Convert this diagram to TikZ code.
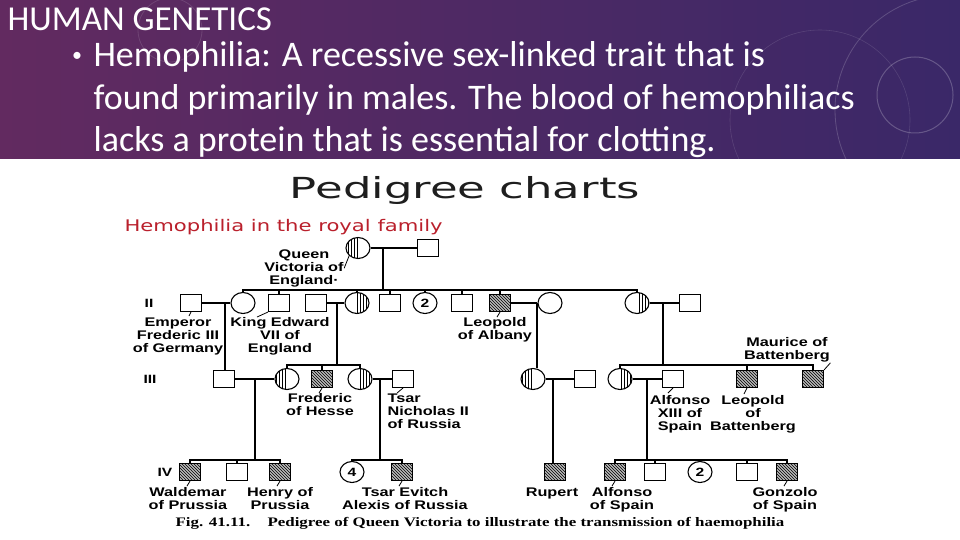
\documentclass[tikz,border=0pt]{standalone}
\usepackage{fontspec}
\setmainfont{Carlito}
\newfontfamily\hdrfont{Carlito}
\newfontfamily\charttitlefont[FakeStretch=1.55]{DejaVu Sans}
\newfontfamily\chartfont[FakeStretch=1.32]{DejaVu Sans}
\newfontfamily\lblfont[FakeStretch=1.3]{Liberation Sans}
\newfontfamily\capfont[FakeStretch=1.3]{Liberation Serif}
\usetikzlibrary{shapes.geometric,patterns,calc}
\definecolor{bandleft}{RGB}{98,42,96}
\definecolor{bandmid}{RGB}{74,22,78}
\definecolor{bandright}{RGB}{58,40,104}
\definecolor{chartred}{RGB}{186,32,44}
\definecolor{chartgray}{RGB}{30,30,30}

\begin{document}
\begin{tikzpicture}[
    x=1pt, y=-1pt, line width=1.1pt,
    male/.style={draw, rectangle, minimum width=21pt, minimum height=17pt, inner sep=0pt},
    female/.style={draw, ellipse, minimum width=24pt, minimum height=21pt, inner sep=0pt,
                   font=\lblfont\bfseries\fontsize{12}{12}\selectfont},
    affected/.style={male, path picture={
        \fill[gray!55] (path picture bounding box.south west) rectangle (path picture bounding box.north east);
        \fill[pattern=north west lines] (path picture bounding box.south west) rectangle (path picture bounding box.north east);}},
    carrierL/.style={female, path picture={
        \fill[pattern=vertical lines] (path picture bounding box.south west) rectangle (path picture bounding box.north);}},
    carrierR/.style={female, path picture={
        \fill[pattern=vertical lines] (path picture bounding box.south) rectangle (path picture bounding box.north east);}},
    lbl/.style={align=center, inner sep=0pt, anchor=north, font=\lblfont\bfseries\fontsize{12.5}{13}\selectfont},
    gen/.style={font=\lblfont\bfseries\fontsize{12}{12}\selectfont},
    tick/.style={line width=0.8pt}
]
\useasboundingbox (0,0) rectangle (960,540);

% Slide header band
\fill[white] (0,0) rectangle (960,540);
\shade[left color=bandleft, middle color=bandmid, right color=bandright] (0,0) rectangle (960,159);
\begin{scope}
  \clip (0,0) rectangle (960,159);
  \draw[white, opacity=0.18, line width=0.8pt] (950,110) circle (115);
  \draw[white, opacity=0.22, line width=1pt] (915,95) circle (38);
  \draw[white, opacity=0.12, line width=0.8pt] (170,30) circle (32);
  \draw[white, opacity=0.12, line width=0.6pt] (820,120) circle (90);
\end{scope}

\node[font=\hdrfont\fontsize{35}{35}\selectfont, text=white, anchor=base west, inner sep=0pt] (hdr) at (7,31) {HUMAN GENETICS};
\node[font=\fontsize{20}{20}\selectfont, text=white, anchor=base, inner sep=0pt] (bullet) at (77,62) {•};
\node[font=\hdrfont\fontsize{36}{36}\selectfont, text=white, anchor=base west, inner sep=0pt] (hl1) at (93,67) {Hemophilia: A recessive sex-linked trait that is};
\node[font=\hdrfont\fontsize{36}{36}\selectfont, text=white, anchor=base west, inner sep=0pt] (hl2) at (93,110) {found primarily in males. The blood of hemophiliacs};
\node[font=\hdrfont\fontsize{36}{36}\selectfont, text=white, anchor=base west, inner sep=0pt] (hl3) at (93,152) {lacks a protein that is essential for clotting.};

% Chart titles
\node[font=\charttitlefont\fontsize{29}{29}\selectfont, text=chartgray, anchor=base, inner sep=0pt] (charttitle) at (465,198) {Pedigree charts};
\node[font=\chartfont\fontsize{16}{16}\selectfont, text=chartred, anchor=base west, inner sep=0pt] (subtitle) at (124,231) {Hemophilia in the royal family};

% Generation numerals
\node[gen] (genII) at (149,303) {II};
\node[gen] (genIII) at (150,379) {III};
\node[gen] (genIV) at (165,472) {IV};

% Generation I
\node[carrierL] (vic) at (358,248) {};
\node[male] (albert) at (428,248) {};

% Generation II
\node[male] (fred3) at (191,303) {};
\node[female] (vicky) at (243,303) {};
\node[male] (edward) at (279,303) {};
\node[male] (louis) at (316,303) {};
\node[carrierR] (alice) at (357,303) {};
\node[male] (alfred) at (390,303) {};
\node[female] (two) at (425,303) {2};
\node[male] (arthur) at (462,303) {};
\node[affected] (leopold) at (500,303) {};
\node[female] (helene) at (550,303) {};
\node[carrierR] (beatrice) at (637,303) {};
\node[male] (henryB) at (690,303) {};

% Generation III
\node[male] (henry) at (224,379) {};
\node[carrierL] (irene) at (287,379) {};
\node[affected] (fredH) at (322,379) {};
\node[carrierR] (alix) at (360,379) {};
\node[male] (nicholas) at (403,379) {};
\node[carrierL] (aliceA) at (533,379) {};
\node[male] (alexA) at (585,379) {};
\node[carrierR] (ena) at (620,379) {};
\node[male] (alfonso13) at (673,379) {};
\node[affected] (leopoldB) at (747,379) {};
\node[affected] (maurice) at (813,379) {};

% Generation IV
\node[affected] (waldemar) at (190,472) {};
\node[male] (sigis) at (237,472) {};
\node[affected] (henryP) at (280,472) {};
\node[female] (four) at (352,472) {4};
\node[affected] (alexis) at (402,472) {};
\node[affected] (rupert) at (555,472) {};
\node[affected] (alfonsoS) at (615,472) {};
\node[male] (jaime) at (655,472) {};
\node[female] (twoB) at (700,472) {2};
\node[male] (juan) at (747,472) {};
\node[affected] (gonzalo) at (787,472) {};

% Marriage lines
\draw (vic) -- (albert);
\draw (fred3) -- (vicky);
\draw (louis) -- (alice);
\draw (leopold) -- (helene);
\draw (beatrice) -- (henryB);
\draw (henry) -- (irene);
\draw (alix) -- (nicholas);
\draw (aliceA) -- (alexA);
\draw (ena) -- (alfonso13);

% Descent points and sibship lines
\coordinate (vicD) at (383,248);
\coordinate (sibII) at (383,290);
\coordinate (vickyD) at (225,303);
\coordinate (aliceD) at (337,303);
\coordinate (sibIIIa) at (337,365);
\coordinate (leoD) at (537,303);
\coordinate (beaD) at (663,303);
\coordinate (sibIIIb) at (663,365);
\coordinate (ireneD) at (255,379);
\coordinate (sibIVa) at (255,460);
\coordinate (alixD) at (380,379);
\coordinate (sibIVb) at (380,460);
\coordinate (aliceAD) at (553,379);
\coordinate (enaD) at (647,379);
\coordinate (sibIVc) at (647,460);

% Children of Victoria
\draw (vicD) -- (sibII);
\draw (vicky.north) |- (sibII) -| (beatrice.north);
\draw (edward.north) -- (edward.north |- sibII);
\draw (alice.north) -- (alice.north |- sibII);
\draw (alfred.north) -- (alfred.north |- sibII);
\draw (two.north) -- (two.north |- sibII);
\draw (arthur.north) -- (arthur.north |- sibII);
\draw (leopold.north) -- (leopold.north |- sibII);

% Generation III descent
\draw (vickyD) -- (vickyD |- henry.north);
\draw (aliceD) -- (sibIIIa);
\draw (irene.north) |- (sibIIIa) -| (alix.north);
\draw (fredH.north) -- (fredH.north |- sibIIIa);
\draw (leoD) -- (leoD |- aliceA.north);
\draw (beaD) -- (sibIIIb);
\draw (ena.north) |- (sibIIIb) -| (maurice.north);
\draw (leopoldB.north) -- (leopoldB.north |- sibIIIb);

% Generation IV descent
\draw (ireneD) -- (sibIVa);
\draw (waldemar.north) |- (sibIVa) -| (henryP.north);
\draw (sigis.north) -- (sigis.north |- sibIVa);
\draw (alixD) -- (sibIVb);
\draw (four.north) |- (sibIVb) -| (alexis.north);
\draw (aliceAD) -- (aliceAD |- rupert.north);
\draw (enaD) -- (sibIVc);
\draw (alfonsoS.north) |- (sibIVc) -| (gonzalo.north);
\draw (jaime.north) -- (jaime.north |- sibIVc);
\draw (twoB.north) -- (twoB.north |- sibIVc);
\draw (juan.north) -- (juan.north |- sibIVc);

% Names
\node[lbl] (vicL) at (304,249) {Queen\\Victoria of\\England·};
\node[lbl] (fred3L) at (178,317) {Emperor\\Frederic III\\of Germany};
\node[lbl] (edwardL) at (280,317) {King Edward\\VII of\\England};
\node[lbl] (leopoldL) at (495,317) {Leopold\\of Albany};
\node[lbl] (mauriceL) at (787,337) {Maurice of\\Battenberg};
\node[lbl] (fredHL) at (320,393) {Frederic\\of Hesse};
\node[lbl, anchor=north west, align=left] (nicholasL) at (387,393) {Tsar\\Nicholas II\\of Russia};
\node[lbl] (alfonso13L) at (680,395) {Alfonso\\XIII of\\Spain};
\node[lbl] (leopoldBL) at (753,395) {Leopold\\of\\Battenberg};
\node[lbl] (waldemarL) at (188,487) {Waldemar\\of Prussia};
\node[lbl] (henryPL) at (280,487) {Henry of\\Prussia};
\node[lbl] (alexisL) at (405,487) {Tsar Evitch\\Alexis of Russia};
\node[lbl] (rupertL) at (552,487) {Rupert};
\node[lbl] (alfonsoSL) at (622,487) {Alfonso\\of Spain};
\node[lbl] (gonzaloL) at (785,487) {Gonzolo\\of Spain};

% Pointer ticks
\draw[tick] (vic.south west) -- (vicL.east);
\draw[tick] (fred3.south) -- ++(-2,4);
\draw[tick] (edward.south west) -- ++(-11,5);
\draw[tick] (leopold.south) -- ++(-3,5);
\draw[tick] (mauriceL.south east) -- (maurice.north east);
\draw[tick] (fredH.south) -- ++(-3,5);
\draw[tick] (nicholas.south) -- ++(-6,5);
\draw[tick] (alfonso13.south) -- ++(-5,5);
\draw[tick] (leopoldB.south) -- ++(-3,6);
\draw[tick] (waldemar.south) -- ++(-3,5);
\draw[tick] (henryP.south) -- ++(-3,5);
\draw[tick] (alexis.south) -- ++(-3,5);
\draw[tick] (alfonsoS.south) -- ++(-3,5);
\draw[tick] (gonzalo.south) -- ++(-3,5);

% Caption
\node[font=\capfont\bfseries\fontsize{13}{13}\selectfont, anchor=base, inner sep=0pt] (caption) at (480,526)
     {Fig. 41.11.\quad\ Pedigree of Queen Victoria to illustrate the transmission of haemophilia};

\end{tikzpicture}
\end{document}
